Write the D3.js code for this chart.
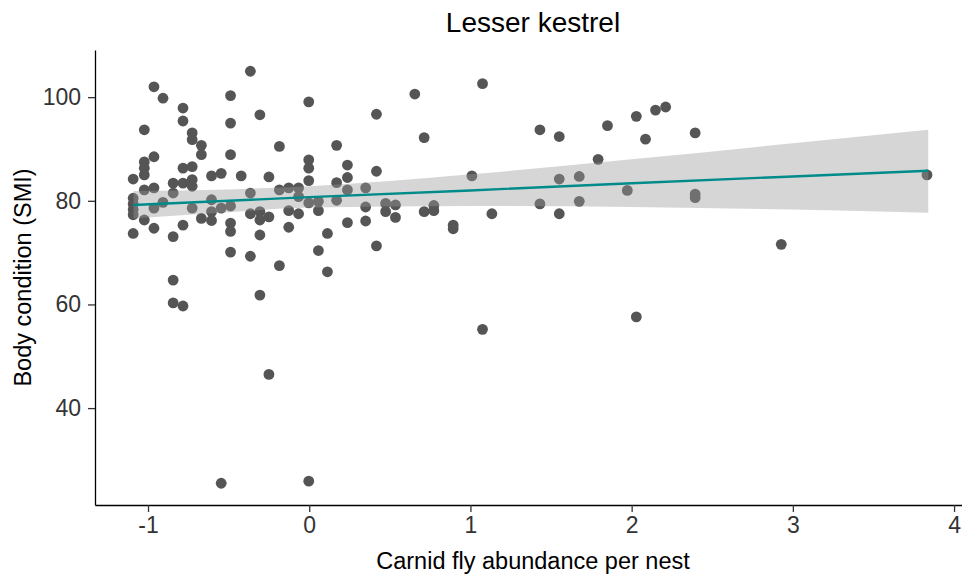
<!DOCTYPE html>
<html>
<head>
<meta charset="utf-8">
<script src="https://cdn.jsdelivr.net/npm/d3@7"></script>
<style>
  html, body { margin: 0; padding: 0; background: #fff; }
  svg { display: block; font-family: "Liberation Sans", Arial, sans-serif; }
</style>
</head>
<body>
<div id="chart"></div>
<script>
// ---- Data ----
const flyAbundance = [
  -1.092,-1.092,-1.092,-1.092,-1.092,-1.092,
  -1.023,-1.023,-1.023,-1.023,-1.023,-1.023,
  -0.963,-0.963,-0.963,-0.963,-0.963,
  -0.907,-0.907,
  -0.844,-0.844,-0.844,-0.844,-0.844,
  -0.783,-0.783,-0.783,-0.783,-0.783,-0.783,
  -0.726,-0.726,-0.726,-0.726,-0.726,-0.726,
  -0.669,-0.669,-0.669,
  -0.606,-0.606,-0.606,-0.606,
  -0.546,-0.546,-0.546,
  -0.488,-0.488,-0.488,-0.488,-0.488,-0.488,-0.488,
  -0.422,
  -0.365,-0.365,-0.365,-0.365,
  -0.306,-0.306,-0.306,-0.306,-0.306,
  -0.250,-0.250,-0.250,
  -0.185,-0.185,-0.185,
  -0.127,-0.127,-0.127,
  -0.066,-0.066,-0.066,
  -0.003,-0.003,-0.003,-0.003,-0.003,-0.003,
  0.057,0.057,0.057,
  0.113,0.113,
  0.170,0.170,0.170,
  0.237,0.237,0.237,0.237,
  0.350,0.350,0.350,
  0.417,0.417,0.417,
  0.474,0.474,
  0.535,0.535,
  0.655,
  0.713,0.713,
  0.773,0.773,
  0.893,0.893,
  1.009,
  1.075,1.075,
  1.133,
  1.431,1.431,
  1.551,1.551,1.551,
  1.675,1.675,
  1.792,
  1.850,
  1.973,
  2.029,2.029,
  2.086,
  2.148,
  2.211,
  2.394,2.394,2.394,
  2.928,
  3.832
];
const bodyCondition = [
  84.2,80.5,79.4,78.3,77.3,73.7,
  93.7,87.5,86.3,85.0,82.1,76.3,
  102.0,88.5,82.5,78.6,74.7,
  99.8,79.7,
  83.4,81.5,73.1,64.7,60.3,
  97.9,95.4,86.3,83.4,75.3,59.7,
  93.1,91.8,86.6,84.1,82.8,78.6,
  90.7,88.9,76.6,
  84.8,80.2,77.9,76.2,
  85.3,78.6,25.5,
  100.3,95.0,88.9,79.0,75.7,74.1,70.1,
  84.8,
  105.0,81.5,77.5,69.3,
  96.6,77.9,76.3,73.4,61.8,
  84.6,76.9,46.5,
  90.5,82.1,67.5,
  82.5,78.1,74.9,
  82.5,80.8,77.5,
  99.1,87.9,86.3,83.9,79.6,25.9,
  79.9,78.1,70.4,
  73.7,66.3,
  90.7,83.5,80.1,
  86.9,84.5,82.1,75.8,
  82.5,78.8,76.1,
  96.7,85.7,71.3,
  79.5,77.9,
  79.2,76.8,
  100.6,
  92.2,77.9,
  79.1,78.1,
  75.3,74.6,
  84.8,
  102.6,55.2,
  77.5,
  93.7,79.4,
  92.4,84.2,77.5,
  84.7,79.9,
  88.0,
  94.5,
  82.0,
  96.3,57.6,
  91.9,
  97.5,
  98.1,
  93.1,81.3,80.6,
  71.6,
  85.0
];

// Fitted linear trend and its confidence band (read at a few x positions)
const fitX  = [-1.09, -0.5, 0, 1, 2, 3, 3.84];
const fitY  = [79.2, 80.0, 80.7, 82.0, 83.4, 84.7, 85.8];
const fitLo = [76.6, 77.8, 78.7, 79.0, 78.8, 78.3, 77.7];
const fitHi = [81.9, 82.2, 82.8, 85.1, 88.0, 91.1, 93.7];

const xTicks = [-1, 0, 1, 2, 3, 4];
const yTicks = [40, 60, 80, 100];

const titleText = "Lesser kestrel";
const xLabel = "Carnid fly abundance per nest";
const yLabel = "Body condition (SMI)";

// ---- Layout ----
const W = 962, H = 579;
const panel = { left: 95, right: 971, top: 50, bottom: 505 };

const svg = d3.select("#chart").append("svg")
  .attr("width", W).attr("height", H);

svg.append("rect").attr("width", W).attr("height", H).attr("fill", "#fff");

const x = d3.scaleLinear().domain([-1.3288, 4.105]).range([panel.left, panel.right]);
const y = d3.scaleLinear().domain([21.3, 109.1]).range([panel.bottom, panel.top]);

const points = flyAbundance.map((v, i) => ({ x: v, y: bodyCondition[i] }));
const fit = fitX.map((v, i) => ({ x: v, y: fitY[i], lo: fitLo[i], hi: fitHi[i] }));

// Points
svg.append("g").selectAll("circle").data(points).join("circle")
  .attr("cx", d => x(d.x)).attr("cy", d => y(d.y))
  .attr("r", 5.4).attr("fill", "#555555");

// Confidence ribbon
svg.append("path").datum(fit)
  .attr("d", d3.area().x(d => x(d.x)).y0(d => y(d.lo)).y1(d => y(d.hi)).curve(d3.curveMonotoneX))
  .attr("fill", "#999999").attr("fill-opacity", 0.4);

// Trend line
svg.append("path").datum(fit)
  .attr("d", d3.line().x(d => x(d.x)).y(d => y(d.y)))
  .attr("fill", "none").attr("stroke", "#008B8B").attr("stroke-width", 2.4);

// Axes
const xAxis = svg.append("g").attr("transform", `translate(0,${panel.bottom})`)
  .call(d3.axisBottom(x).tickValues(xTicks).tickSize(7).tickSizeOuter(0).tickPadding(5)
    .tickFormat(d3.format("d")));
const yAxis = svg.append("g").attr("transform", `translate(${panel.left},0)`)
  .call(d3.axisLeft(y).tickValues(yTicks).tickSize(7).tickSizeOuter(0).tickPadding(7)
    .tickFormat(d3.format("d")));

[xAxis, yAxis].forEach(g => {
  g.select(".domain").attr("stroke", "#000").attr("stroke-width", 1.3);
  g.selectAll(".tick line").attr("stroke", "#333").attr("stroke-width", 1.3);
  g.selectAll(".tick text").attr("fill", "#333333")
    .style("font-size", "23px").style("font-family", "'Liberation Sans', Arial, sans-serif");
});
xAxis.selectAll(".tick text").text(d => d < 0 ? "-" + Math.abs(d) : d);

// Titles
svg.append("text").attr("x", (panel.left + panel.right) / 2).attr("y", 32)
  .attr("text-anchor", "middle").style("font-size", "28px").attr("fill", "#000")
  .text(titleText);

svg.append("text").attr("x", (panel.left + panel.right) / 2).attr("y", 569)
  .attr("text-anchor", "middle").style("font-size", "23.5px").attr("fill", "#000")
  .text(xLabel);

svg.append("text")
  .attr("transform", `translate(31,${(panel.top + panel.bottom) / 2}) rotate(-90)`)
  .attr("text-anchor", "middle").style("font-size", "23.5px").attr("fill", "#000")
  .text(yLabel);
</script>
</body>
</html>
